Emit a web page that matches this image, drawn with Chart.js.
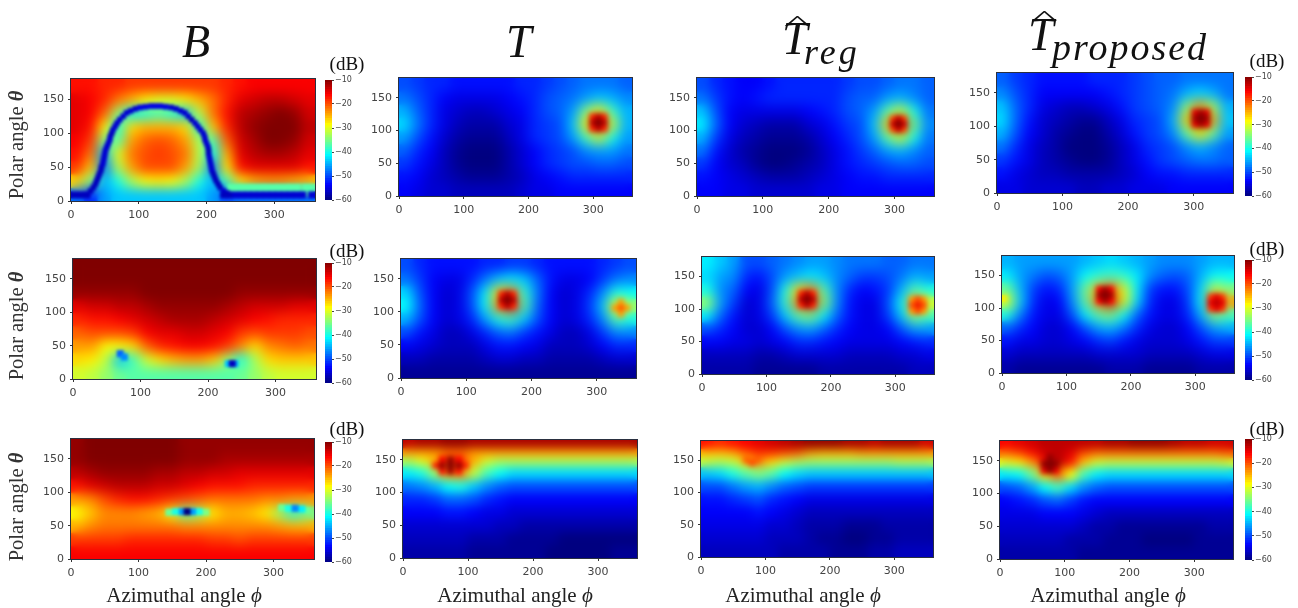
<!DOCTYPE html>
<html>
<head>
<meta charset="utf-8">
<title>B and T patterns</title>
<script src="https://cdn.jsdelivr.net/npm/chart.js@4"></script>
<style>
html,body{margin:0;background:#fff;overflow:hidden}
#page{position:relative;width:1298px;height:608px;filter:blur(.45px)}
#page canvas{position:absolute}
.t{position:absolute;font-family:"Liberation Serif",serif;color:#111;white-space:nowrap;line-height:1}
.i{font-style:italic}
</style>
</head>
<body>
<div id="page"></div>
<script>
// grid cell centres, degrees
const phiCells=[10,30,50,70,90,110,130,150,170,190,210,230,250,270,290,310,330,350]
const thetaCells=[170,150,130,110,90,70,50,30,10]
const thetaCellsTop=[178,165,150,130,110,90,70,50,30,10]
const xTicks=[0,100,200,300]
const yTicks=[0,50,100,150]
const barTicks=[-60,-50,-40,-30,-20,-10]

// values in dB, one row per theta cell
const bRow1=[
[-17,-17,-18,-18,-19,-19,-19,-19,-19,-19,-19,-18,-17,-16,-16,-16,-16,-16],
[-15,-16,-18,-22,-25,-28,-30,-30,-28,-25,-22,-18,-15,-14,-13,-13,-14,-15],
[-15,-16,-21,-34,-42,-40,-38,-40,-44,-32,-22,-17,-13,-12,-11,-10,-11,-14],
[-15,-17,-28,-40,-27,-25,-25,-25,-27,-40,-26,-18,-13,-11,-10,-10,-10,-13],
[-16,-19,-35,-37,-24,-21,-20,-21,-24,-33,-38,-21,-14,-12,-10,-10,-11,-14],
[-17,-22,-45,-30,-22,-20,-19,-20,-22,-32,-42,-25,-15,-13,-12,-12,-13,-15],
[-19,-26,-48,-33,-24,-20,-20,-20,-24,-33,-48,-28,-17,-15,-15,-15,-15,-17],
[-27,-35,-45,-40,-33,-29,-28,-29,-33,-40,-45,-38,-28,-25,-24,-24,-25,-26],
[-48,-52,-46,-44,-44,-44,-44,-44,-44,-44,-46,-50,-48,-48,-48,-48,-48,-48]]
const tRow1=[
[-50,-51,-52,-52,-53,-53,-53,-53,-53,-52,-52,-51,-50,-49,-48,-48,-48,-49],
[-48,-50,-52,-54,-55,-55,-55,-55,-54,-53,-52,-50,-49,-48,-46,-44,-45,-47],
[-45,-49,-52,-55,-56,-57,-57,-56,-55,-54,-52,-50,-49,-46,-35,-28,-38,-45],
[-43,-48,-52,-55,-57,-58,-58,-58,-56,-55,-52,-51,-50,-44,-28,-15,-31,-45],
[-46,-50,-53,-56,-58,-59,-59,-59,-57,-55,-52,-51,-50,-46,-38,-31,-40,-46],
[-49,-52,-54,-57,-59,-60,-60,-60,-58,-56,-54,-52,-51,-50,-47,-46,-46,-48],
[-51,-53,-55,-57,-59,-60,-60,-60,-58,-56,-54,-52,-51,-50,-50,-49,-49,-50],
[-53,-54,-56,-57,-58,-59,-59,-59,-58,-57,-55,-54,-53,-52,-52,-52,-52,-52],
[-54,-55,-56,-56,-57,-57,-57,-57,-57,-56,-55,-55,-54,-54,-54,-54,-54,-54]]
const tregRow1=[
[-50,-52,-53,-54,-54,-53,-52,-52,-52,-52,-52,-51,-50,-50,-49,-48,-48,-49],
[-48,-51,-53,-54,-53,-52,-52,-52,-52,-52,-52,-50,-49,-49,-46,-45,-47,-49],
[-44,-50,-54,-55,-55,-55,-55,-55,-54,-53,-52,-50,-49,-46,-37,-31,-40,-48],
[-42,-49,-54,-56,-57,-58,-58,-58,-56,-55,-53,-51,-50,-44,-26,-12,-35,-47],
[-45,-51,-55,-57,-58,-59,-59,-59,-58,-56,-54,-52,-50,-46,-37,-31,-40,-48],
[-48,-53,-56,-58,-59,-60,-60,-60,-59,-57,-55,-53,-51,-49,-46,-45,-47,-49],
[-51,-54,-56,-57,-59,-60,-60,-59,-58,-57,-55,-53,-52,-51,-50,-49,-49,-50],
[-53,-54,-55,-56,-57,-58,-58,-58,-57,-56,-55,-54,-53,-53,-52,-52,-52,-52],
[-54,-54,-55,-55,-56,-56,-56,-56,-56,-55,-55,-54,-54,-54,-54,-54,-54,-54]]
const propRow1=[
[-49,-51,-52,-53,-53,-53,-53,-52,-52,-52,-51,-50,-49,-49,-48,-48,-48,-48],
[-47,-50,-52,-54,-54,-54,-54,-54,-53,-52,-51,-50,-49,-48,-45,-43,-45,-48],
[-44,-49,-52,-55,-56,-57,-57,-56,-55,-53,-51,-50,-49,-47,-35,-23,-33,-45],
[-43,-49,-53,-56,-57,-58,-59,-59,-57,-55,-52,-51,-50,-45,-27,-11,-24,-44],
[-45,-50,-54,-56,-58,-59,-60,-60,-58,-56,-53,-51,-50,-47,-37,-28,-36,-46],
[-48,-52,-55,-57,-58,-60,-60,-60,-59,-57,-55,-52,-51,-50,-47,-45,-47,-49],
[-51,-53,-55,-57,-58,-59,-60,-60,-59,-57,-55,-53,-51,-50,-49,-48,-48,-49],
[-53,-55,-56,-57,-57,-58,-58,-58,-58,-57,-56,-54,-53,-53,-52,-52,-52,-52],
[-55,-55,-56,-56,-56,-56,-57,-57,-56,-56,-55,-55,-55,-54,-54,-54,-54,-54]]

const bRow2=[
[-10,-10,-10,-10,-10,-10,-10,-10,-10,-10,-10,-10,-10,-10,-10,-10,-10,-10],
[-10,-10,-10,-10,-10,-10,-10,-10,-10,-10,-10,-10,-10,-10,-10,-10,-10,-10],
[-11,-11,-11,-11,-11,-10,-10,-10,-10,-10,-10,-10,-11,-11,-11,-11,-11,-11],
[-15,-14,-14,-13,-13,-12,-11,-11,-11,-11,-11,-12,-13,-14,-14,-14,-15,-15],
[-18,-17,-17,-16,-15,-14,-13,-12,-12,-12,-13,-14,-15,-16,-17,-18,-18,-18],
[-21,-20,-20,-20,-19,-16,-15,-15,-14,-14,-15,-16,-19,-20,-19,-19,-19,-20],
[-24,-24,-29,-29,-27,-21,-18,-17,-16,-16,-17,-19,-23,-27,-23,-22,-21,-22],
[-27,-28,-32,-44,-38,-31,-27,-25,-24,-24,-26,-34,-40,-33,-27,-26,-26,-26],
[-31,-32,-34,-36,-37,-37,-37,-37,-37,-37,-37,-37,-36,-34,-32,-31,-31,-31]]
const tRow2=[
[-50,-52,-53,-53,-53,-53,-52,-52,-51,-51,-52,-53,-53,-53,-53,-52,-51,-50],
[-48,-51,-54,-55,-55,-52,-48,-44,-42,-44,-49,-53,-55,-55,-54,-51,-48,-47],
[-43,-50,-54,-56,-55,-50,-42,-27,-22,-39,-48,-54,-56,-55,-52,-47,-40,-41],
[-41,-49,-54,-56,-55,-50,-41,-23,-15,-37,-49,-54,-56,-55,-51,-44,-29,-33],
[-45,-50,-54,-56,-55,-52,-46,-40,-38,-44,-50,-54,-56,-55,-52,-47,-37,-40],
[-50,-53,-55,-57,-57,-55,-52,-49,-48,-51,-53,-55,-57,-57,-55,-51,-47,-47],
[-54,-55,-56,-57,-57,-57,-55,-53,-53,-54,-55,-57,-57,-57,-56,-54,-52,-52],
[-57,-57,-58,-58,-58,-58,-57,-56,-56,-57,-57,-58,-58,-58,-58,-57,-56,-56],
[-59,-59,-59,-59,-59,-59,-59,-59,-59,-59,-59,-59,-59,-59,-59,-59,-59,-59]]
const tregRow2=[
[-42,-44,-46,-50,-50,-49,-48,-47,-46,-46,-47,-48,-48,-48,-49,-49,-48,-48],
[-43,-46,-47,-52,-53,-50,-46,-44,-42,-44,-47,-49,-51,-51,-50,-48,-45,-46],
[-40,-47,-49,-54,-55,-50,-40,-27,-22,-37,-47,-52,-54,-53,-51,-45,-37,-40],
[-34,-46,-51,-56,-55,-49,-39,-22,-14,-34,-47,-53,-55,-55,-50,-41,-24,-30],
[-42,-49,-53,-56,-55,-51,-44,-37,-35,-42,-49,-53,-55,-55,-51,-44,-34,-38],
[-50,-52,-54,-56,-56,-54,-50,-47,-46,-49,-52,-54,-55,-55,-54,-50,-46,-46],
[-54,-54,-55,-55,-56,-55,-54,-52,-52,-53,-54,-55,-55,-55,-55,-54,-53,-52],
[-57,-57,-57,-57,-58,-58,-57,-56,-56,-56,-56,-57,-57,-57,-57,-56,-56,-55],
[-58,-58,-58,-58,-59,-59,-59,-59,-59,-58,-58,-58,-58,-58,-58,-58,-57,-57]]
const propRow2=[
[-45,-46,-46,-46,-46,-46,-45,-44,-43,-44,-45,-46,-47,-47,-47,-46,-45,-45],
[-42,-46,-48,-50,-49,-46,-41,-39,-38,-39,-42,-47,-49,-50,-49,-45,-41,-41],
[-36,-45,-51,-53,-52,-46,-36,-25,-20,-30,-42,-51,-53,-53,-50,-43,-31,-35],
[-31,-44,-52,-55,-54,-47,-37,-22,-14,-30,-43,-52,-55,-55,-51,-41,-18,-24],
[-40,-48,-53,-55,-55,-50,-42,-37,-35,-41,-49,-53,-55,-55,-52,-45,-34,-38],
[-49,-52,-54,-56,-56,-54,-50,-46,-45,-48,-52,-55,-56,-56,-54,-50,-46,-45],
[-53,-55,-55,-56,-56,-55,-54,-52,-51,-53,-55,-56,-56,-56,-55,-53,-51,-51],
[-56,-57,-57,-57,-57,-57,-57,-56,-56,-56,-56,-57,-57,-57,-57,-56,-55,-55],
[-58,-59,-59,-59,-59,-59,-59,-59,-58,-58,-58,-59,-59,-59,-59,-58,-58,-58]]

const bRow3=[
[-11,-10,-10,-10,-10,-10,-10,-10,-11,-11,-11,-11,-11,-11,-11,-11,-11,-11],
[-11,-10,-10,-10,-10,-10,-10,-10,-11,-11,-11,-12,-12,-12,-12,-12,-12,-12],
[-13,-12,-11,-11,-11,-11,-12,-12,-13,-13,-14,-14,-15,-15,-15,-15,-15,-15],
[-17,-15,-14,-13,-13,-13,-14,-14,-15,-16,-17,-17,-17,-18,-18,-18,-18,-18],
[-24,-23,-20,-18,-17,-17,-18,-19,-20,-21,-22,-22,-22,-22,-23,-23,-24,-24],
[-29,-26,-23,-23,-23,-24,-25,-30,-37,-34,-28,-25,-25,-26,-28,-34,-40,-36],
[-25,-23,-22,-22,-22,-22,-22,-22,-23,-23,-23,-23,-23,-23,-23,-24,-25,-25],
[-19,-19,-19,-19,-18,-18,-18,-18,-18,-18,-19,-19,-20,-19,-19,-19,-19,-19],
[-16,-16,-16,-16,-16,-16,-16,-16,-16,-16,-16,-16,-16,-16,-16,-16,-16,-16]]
const tRow3=[
[-13,-12,-12,-11,-11,-12,-12,-12,-12,-12,-12,-12,-12,-12,-12,-12,-12,-12],
[-24,-24,-24,-22,-22,-24,-24,-24,-24,-24,-24,-24,-24,-24,-24,-24,-24,-24],
[-33,-30,-25,-18,-18,-25,-31,-33,-33,-33,-33,-33,-33,-33,-33,-33,-33,-33],
[-42,-40,-34,-24,-23,-32,-38,-41,-43,-43,-43,-43,-43,-43,-43,-43,-43,-43],
[-48,-47,-45,-41,-40,-44,-47,-49,-50,-50,-50,-50,-50,-50,-50,-50,-50,-50],
[-52,-52,-51,-49,-49,-50,-52,-53,-54,-54,-54,-54,-54,-54,-54,-54,-54,-54],
[-54,-54,-54,-53,-53,-54,-55,-55,-56,-56,-56,-56,-56,-56,-56,-56,-56,-56],
[-56,-56,-56,-56,-56,-56,-56,-57,-57,-58,-58,-58,-58,-58,-58,-58,-58,-58],
[-57,-57,-57,-57,-57,-58,-58,-58,-59,-59,-59,-59,-60,-60,-60,-60,-60,-60],
[-58,-58,-58,-58,-58,-59,-59,-59,-59,-59,-59,-60,-60,-60,-60,-60,-59,-59]]
const tregRow3=[
[-17,-18,-17,-16,-15,-14,-13,-12,-11,-11,-11,-12,-12,-13,-12,-12,-12,-14],
[-26,-26,-25,-21,-19,-19,-20,-21,-24,-25,-25,-25,-24,-24,-24,-24,-24,-24],
[-32,-33,-32,-27,-23,-27,-31,-33,-34,-34,-34,-34,-34,-34,-34,-33,-33,-33],
[-44,-43,-40,-37,-35,-37,-41,-43,-44,-44,-44,-44,-44,-44,-44,-44,-44,-44],
[-50,-50,-48,-46,-45,-47,-49,-50,-51,-51,-51,-51,-51,-51,-51,-51,-51,-51],
[-53,-53,-52,-51,-50,-52,-53,-54,-55,-55,-55,-55,-55,-55,-55,-55,-55,-55],
[-54,-54,-54,-54,-53,-54,-55,-56,-57,-57,-57,-57,-57,-57,-57,-57,-57,-57],
[-55,-55,-55,-55,-55,-56,-56,-57,-58,-58,-58,-59,-59,-59,-58,-58,-58,-58],
[-56,-56,-56,-56,-56,-57,-57,-57,-58,-59,-59,-60,-60,-59,-59,-58,-58,-58],
[-57,-57,-57,-57,-57,-57,-58,-58,-58,-58,-59,-59,-59,-58,-58,-57,-57,-57]]
const propRow3=[
[-16,-15,-14,-13,-13,-13,-13,-13,-12,-12,-11,-11,-11,-12,-13,-13,-14,-14],
[-22,-20,-17,-14,-13,-15,-20,-22,-22,-22,-22,-22,-22,-22,-22,-22,-22,-21],
[-30,-28,-24,-16,-12,-17,-26,-31,-32,-32,-32,-32,-32,-32,-32,-32,-32,-31],
[-42,-41,-36,-26,-21,-29,-38,-42,-43,-43,-43,-43,-43,-43,-43,-43,-43,-43],
[-50,-49,-46,-41,-38,-43,-47,-49,-50,-50,-50,-50,-50,-50,-50,-50,-50,-50],
[-54,-53,-52,-50,-49,-51,-53,-54,-54,-54,-54,-54,-54,-54,-54,-54,-54,-54],
[-55,-55,-55,-54,-54,-54,-55,-56,-57,-57,-57,-57,-57,-57,-57,-57,-57,-57],
[-56,-56,-56,-56,-56,-56,-57,-58,-58,-59,-59,-59,-59,-59,-59,-59,-58,-58],
[-57,-57,-57,-57,-57,-58,-58,-58,-59,-59,-59,-60,-60,-60,-60,-59,-59,-59],
[-58,-58,-58,-58,-58,-58,-59,-59,-59,-59,-59,-59,-59,-59,-59,-59,-59,-59]]

// narrow features a 20 degree cell cannot hold: [phi,theta,dB,cell size]
const bRow1Fine=[
[240,16,-37,18],[258,16,-37,18],[276,16,-37,18],[294,16,-37,18],[312,16,-37,18],[330,16,-37,18],[350,16,-37,18],
[25,10,-56,7],[29,15,-57,7],[33,20,-57,7],[36,25,-57,7],[38,30,-57,7],[40,35,-57,7],[42,40,-57,7],[44,45,-57,7],[45,50,-57,7],[47,55,-56,7],[48,60,-56,7],[49,65,-56,7],[50,70,-56,7],[51,75,-56,7],[53,80,-56,7],[55,85,-56,7],[57,90,-56,7],[58,95,-56,7],[60,100,-57,7],[62,105,-56,7],[65,110,-56,7],[68,115,-56,7],[72,120,-56,7],[77,125,-56,7],[82,130,-56,7],[88,133,-56,7],[95,136,-56,7],[102,138,-55,7],[110,139,-55,7],[118,140,-55,7],[125,140,-55,7],[132,140,-55,7],[140,139,-55,7],[148,138,-56,7],[155,136,-56,7],[162,133,-56,7],[168,130,-56,7],[173,125,-56,7],[178,120,-57,7],[183,115,-56,7],[187,110,-56,7],[191,105,-56,7],[195,100,-56,7],[197,95,-56,7],[198,90,-56,7],[200,85,-56,7],[202,80,-56,7],[203,75,-57,7],[203,70,-57,7],[204,65,-56,7],[205,60,-56,7],[206,55,-56,7],[207,50,-56,7],[208,45,-56,7],[210,40,-57,7],[212,35,-57,7],[214,30,-57,7],[217,25,-57,7],[220,20,-57,7],[225,15,-56,7],[230,12,-56,7],
[5,9,-57],[14,9,-57],[23,9,-57],[225,9,-57],[234,9,-57],[243,9,-56],[252,9,-56],[261,9,-56],[270,9,-56],[279,9,-56],[288,9,-56],[297,9,-56],[306,9,-56],[315,9,-56],[324,9,-56],[333,9,-56],[342,9,-56],[355,9,-56]]
const tRow1Fine=[[299,121,-18],[317,121,-18],[299,103,-18],[317,103,-18],[299,112,-13],[317,112,-13],[308,121,-13],[308,103,-13],[308,112,-10]]
const tregRow1Fine=[[298,118,-20],[314,118,-20],[298,102,-20],[314,102,-20],[298,110,-14],[314,110,-14],[306,118,-14],[306,102,-14],[306,110,-10]]
const propRow1Fine=[[302,121,-15],[320,121,-15],[302,103,-15],[320,103,-15],[302,112,-12],[320,112,-12],[311,121,-12],[311,103,-12],[311,112,-10]]
const bRow2Fine=[[70,38,-49],[76,33,-47],[230,23,-44],[240,23,-45],[236,23,-57]]
const tRow2Fine=[[154,127,-18],[172,127,-18],[154,109,-18],[172,109,-18],[154,118,-13],[172,118,-13],[163,127,-13],[163,109,-13],[163,118,-10],[337,106,-19],[328,106,-24],[346,106,-24],[337,115,-24],[337,97,-24]]
const tregRow2Fine=[[154,124,-18],[172,124,-18],[154,106,-18],[172,106,-18],[154,115,-13],[172,115,-13],[163,124,-13],[163,106,-13],[163,115,-10],[326,115,-24],[344,115,-24],[326,97,-24],[344,97,-24],[335,106,-15],[326,106,-20],[344,106,-20],[335,115,-20],[335,97,-20]]
const propRow2Fine=[[151,129,-16],[169,129,-16],[151,111,-16],[169,111,-16],[151,120,-12],[169,120,-12],[160,129,-12],[160,111,-12],[160,120,-10],[324,117,-19],[342,117,-19],[324,99,-19],[342,99,-19],[333,108,-12],[324,108,-15],[342,108,-15],[333,117,-15],[333,99,-15],[4,115,-28]]
const bRow3Fine=[[145,70,-36],[200,70,-35],[155,71,-40],[190,71,-40],[165,71,-46],[180,71,-46],[172,71,-60],[312,77,-36],[350,73,-36],[322,76,-40],[342,75,-42],[332,76,-47]]
const tRow3Fine=[[60,150,-16],[86,150,-16],[60,132,-17],[86,132,-17],[50,141,-18],[96,141,-18],[60,141,-11],[86,141,-11],[73,150,-11],[73,132,-12],[73,141,-10]]
const tregRow3Fine=[[70,150,-21],[88,150,-21],[79,146,-20]]
const propRow3Fine=[[68,135,-15],[86,135,-15],[77,135,-11],[68,145,-11],[86,145,-11],[77,155,-11],[77,145,-10]]

const dbGrids=[[bRow1,tRow1,tregRow1,propRow1],[bRow2,tRow2,tregRow2,propRow2],[bRow3,tRow3,tregRow3,propRow3]]
const dbFine=[[bRow1Fine,tRow1Fine,tregRow1Fine,propRow1Fine],[bRow2Fine,tRow2Fine,tregRow2Fine,propRow2Fine],[bRow3Fine,tRow3Fine,tregRow3Fine,propRow3Fine]]

// plot frames [left,right,top,bottom] in page pixels
const frames=[
[[71,315,79,201],[399,632,78,196],[697,934,78,196],[997,1233,73,193]],
[[73,316,259,379],[401,636,259,378],[702,934,257,374],[1002,1234,256,373]],
[[71,314,439,559],[403,637,440,558],[701,933,441,557],[1000,1233,441,559]]]
// colour bars [left,top,bottom]
const bars=[[325,80,200],[1245,77,196],[325,263,383],[1245,260,380],[325,442,562],[1245,439,560]]
const dbLabels=[[347,63],[1267,60],[347,250],[1267,248],[347,428],[1267,428]]
const polarLabels=[[16,145],[16,326],[16,507]]
const azimuthLabels=[[184,595],[515,595],[803,595],[1108,595]]

const page=document.getElementById("page")

function jet(v){
let t=Math.min(1,Math.max(0,(v+60)/50))
let c=k=>Math.round(255*Math.min(1,Math.max(0,1.5-Math.abs(4*t-k))))
return "rgb("+c(3)+","+c(2)+","+c(1)+")"
}

// smooth what the datasets drew, the reference is an interpolated image
const smoothPlugin={
id:"smooth",
afterDatasetDraw(chart,args){
let s=chart.data.datasets[args.index].smooth
if(!s)return
let a=chart.chartArea,w=a.right-a.left,h=a.bottom-a.top
let tmp=document.createElement("canvas")
tmp.width=w
tmp.height=h
tmp.getContext("2d").drawImage(chart.canvas,a.left,a.top,w,h,0,0,w,h)
let ctx=chart.ctx
ctx.save()
ctx.beginPath()
ctx.rect(a.left,a.top,w,h)
ctx.clip()
ctx.filter="blur("+s+"px)"
ctx.drawImage(tmp,a.left,a.top)
ctx.restore()
},
afterDraw(chart){
let a=chart.chartArea,ctx=chart.ctx
ctx.save()
ctx.strokeStyle="#2a3040"
ctx.lineWidth=1
ctx.strokeRect(a.left-.5,a.top-.5,a.right-a.left+1,a.bottom-a.top+1)
ctx.restore()
}
}

function cellRadius(ctx,deg){
let s=ctx.chart.scales
let side=Math.max(s.x.getPixelForValue(deg)-s.x.getPixelForValue(0),s.y.getPixelForValue(0)-s.y.getPixelForValue(deg))
return (side+1)/2/Math.SQRT1_2
}

function addCanvas(left,top,w,h){
let c=document.createElement("canvas")
c.width=w
c.height=h
c.style.left=left+"px"
c.style.top=top+"px"
page.appendChild(c)
return c
}

function drawPanel(row,col){
let f=frames[row][col]
let grid=dbGrids[row][col]
let thetas=grid.length==10?thetaCellsTop:thetaCells
let padL=col==0?66:30,padB=22,padR=4,padT=4
let w=f[1]-f[0]+padL+padR,h=f[3]-f[2]+padT+padB

// bottom rows first, the upper cells overlap them in the three-strip grids
let cells=[]
for(let i=grid.length-1;i>=0;i--){
grid[i].forEach((v,j)=>cells.push({x:phiCells[j],y:thetas[i],v:v}))
}
let fine=dbFine[row][col].map(p=>({x:p[0],y:p[1],v:p[2],size:p[3]||9}))

new Chart(addCanvas(f[0]-padL,f[2]-padT,w,h),{
type:"scatter",
plugins:[smoothPlugin],
data:{datasets:[
{label:"fine",data:fine,clip:0,smooth:col==0?1.8:2.4,showLine:false,pointStyle:"rect",pointBorderWidth:0,
pointBackgroundColor:c=>c.raw?jet(c.raw.v):"#000",
pointRadius:c=>c.raw?cellRadius(c,c.raw.size):0},
{label:"cells",data:cells,clip:0,smooth:grid.length==10?4:6,showLine:false,pointStyle:"rect",pointBorderWidth:0,
pointBackgroundColor:c=>c.raw?jet(c.raw.v):"#000",
pointRadius:c=>cellRadius(c,20)}
]},
options:{
responsive:false,
animation:false,
events:[],
layout:{padding:{top:padT,right:padR,left:0,bottom:0}},
plugins:{legend:{display:false},tooltip:{enabled:false}},
scales:{
x:{
type:"linear",min:0,max:360,
afterBuildTicks:s=>{s.ticks=xTicks.map(v=>({value:v}))},
afterFit:s=>{s.height=padB;s.paddingLeft=0;s.paddingRight=0},
grid:{drawOnChartArea:false,color:"#333",tickLength:3,z:1},
border:{display:false},
ticks:{autoSkip:false,maxRotation:0,padding:5,color:"#444",font:{family:"DejaVu Sans",size:11}}
},
y:{
type:"linear",min:0,max:180,
afterBuildTicks:s=>{s.ticks=yTicks.map(v=>({value:v}))},
afterFit:s=>{s.width=padL;s.paddingTop=0;s.paddingBottom=0},
grid:{drawOnChartArea:false,color:"#333",tickLength:3,z:1},
border:{display:false},
ticks:{autoSkip:false,padding:4,color:"#444",font:{family:"DejaVu Sans",size:11}}
}
}
}
})
}

function drawBar(b){
let sets=[]
for(let v=-60;v<-10;v++){
sets.push({data:[[v,v+1]],backgroundColor:jet(v+.5),borderWidth:0,inflateAmount:.4,barPercentage:1,categoryPercentage:1,grouped:false})
}
let h=b[2]-b[1]
new Chart(addCanvas(b[0],b[1]-5,40,h+10),{
type:"bar",
data:{labels:[""],datasets:sets},
options:{
responsive:false,
animation:false,
events:[],
layout:{padding:{top:5,bottom:5,left:0,right:0}},
plugins:{legend:{display:false},tooltip:{enabled:false}},
scales:{
x:{display:false,stacked:false},
y:{
position:"right",min:-60,max:-10,
afterBuildTicks:s=>{s.ticks=barTicks.map(v=>({value:v}))},
afterFit:s=>{s.width=33;s.paddingTop=0;s.paddingBottom=0},
grid:{drawOnChartArea:false,color:"#444",tickLength:2},
border:{display:false},
ticks:{padding:1,color:"#444",font:{family:"DejaVu Sans",size:8},callback:v=>"\u2212"+Math.abs(v)}
}
}
}
})
}

function addText(html,x,y,size,cls,extra){
let d=document.createElement("div")
d.className="t "+(cls||"")
d.innerHTML=html
d.style.cssText="left:"+x+"px;top:"+y+"px;font-size:"+size+"px;"+(extra||"")
page.appendChild(d)
return d
}

for(let r=0;r<3;r++){
for(let c=0;c<4;c++)drawPanel(r,c)
}
bars.forEach(drawBar)
dbLabels.forEach(p=>addText("(dB)",p[0],p[1],19,"","transform:translate(-50%,-50%)"))
polarLabels.forEach(p=>addText("Polar angle <b><i>θ</i></b>",p[0],p[1],20.5,"","color:#333;transform:translate(-50%,-50%) rotate(-90deg)"))
azimuthLabels.forEach(p=>addText("Azimuthal angle <i>ϕ</i>",p[0],p[1],21,"","color:#222;transform:translate(-50%,-50%)"))

// column titles
addText("B",182,19,46,"i")
addText("T",506,19,46,"i")
addText("T",782,16,46,"i")
addText("^",784,12,30,"","transform:scale(1.9,.7);transform-origin:left top")
addText("reg",804,34,36,"i","letter-spacing:3px")
addText("T",1028,12,46,"i")
addText("^",1031,7,30,"","transform:scale(1.9,.7);transform-origin:left top")
addText("proposed",1052,28,38,"i","letter-spacing:2px")
</script>
</body>
</html>
